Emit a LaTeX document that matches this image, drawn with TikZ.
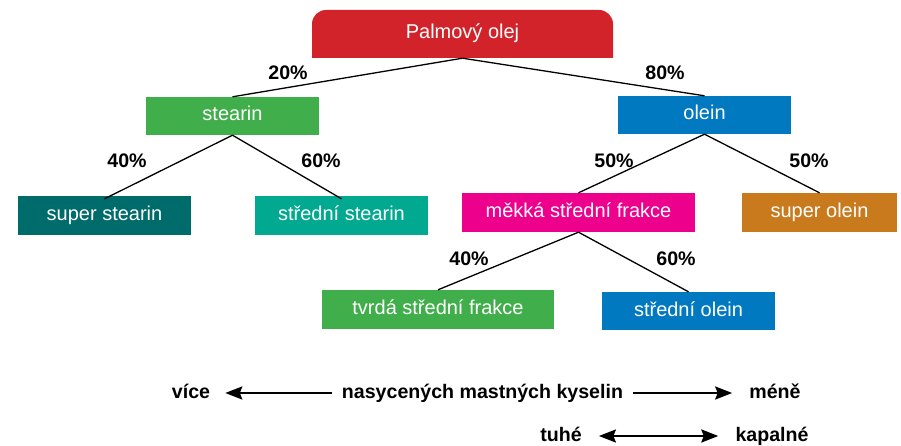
\documentclass[tikz,border=0pt]{standalone}
\usepackage{fontspec}
\setmainfont{Liberation Sans}
\usetikzlibrary{arrows.meta}

\definecolor{palmred}{HTML}{D2232A}
\definecolor{stgreen}{HTML}{40AE4A}
\definecolor{olblue}{HTML}{0079C1}
\definecolor{darkteal}{HTML}{006B6B}
\definecolor{midteal}{HTML}{00A98F}
\definecolor{softpink}{HTML}{EC008C}
\definecolor{oleorange}{HTML}{C87A1C}

\tikzset{
  frakce/.style={minimum width=173pt, minimum height=38pt, inner sep=0pt,
    text height=14.5pt, text depth=4.5pt,
    text=white, font=\fontsize{20}{23}\selectfont},
  podil/.style={inner sep=0pt, text height=14.5pt, text depth=4.5pt,
    font=\bfseries\fontsize{19.6}{23}\selectfont},
  vetev/.style={line width=1.3pt},
  hrot/.tip={Stealth[length=17pt,width=13pt,inset=2.5pt]},
  sipka/.style={line width=2.4pt, -hrot}
}

\begin{document}
\begin{tikzpicture}[x=1pt,y=-1pt]
      \useasboundingbox (0,0) rectangle (901,446);
      % Palm oil on top, the fractions below
      \fill[palmred] (312,58) [rounded corners=14pt] -- (312,10) -- (613,10) [sharp corners] -- (613,58) -- cycle;
      \node[frakce, minimum width=301pt, minimum height=48pt] (palm) at (462.5,34) {Palmový olej};
      \node[frakce, fill=stgreen] (stearin) at (232.5,116) {stearin};
      \node[frakce, fill=olblue] (olein) at (704.5,115) {olein};
      \node[frakce, fill=darkteal, minimum height=39pt] (superst) at (104.5,215.5) {super stearin};
      \node[frakce, fill=midteal, minimum height=39pt] (stredst) at (341.5,215.5) {střední stearin};
      \node[frakce, fill=softpink, minimum width=233pt, minimum height=39pt] (mekka) at (578.5,212.5) {měkká střední frakce};
      \node[frakce, fill=oleorange, minimum width=155pt, minimum height=39pt] (superol) at (819.5,212.5) {super olein};
      \node[frakce, fill=stgreen, minimum width=232pt, minimum height=39pt] (tvrda) at (438,309.5) {tvrdá střední frakce};
      \node[frakce, fill=olblue] (stredol) at (688.5,311) {střední olein};
      % branches
      \draw[vetev] (palm.south) -- (stearin.north);
      \draw[vetev] (palm.south) -- (olein.north);
      \draw[vetev] (stearin.south) -- ([yshift=-3pt]superst.north);
      \draw[vetev] (stearin.south) -- ([yshift=-3pt]stredst.north);
      \draw[vetev] (olein.south) -- (mekka.north);
      \draw[vetev] (olein.south) -- (superol.north);
      \draw[vetev] (mekka.south) -- (tvrda.north);
      \draw[vetev] (mekka.south) -- (stredol.north);
      % shares
      \node[podil] (p20) at (288,75) {20\%};
      \node[podil] (p80) at (665,75) {80\%};
      \node[podil] (p40a) at (127,163) {40\%};
      \node[podil] (p60a) at (321,163) {60\%};
      \node[podil] (p50a) at (614,163) {50\%};
      \node[podil] (p50b) at (809,163) {50\%};
      \node[podil] (p40b) at (469,260) {40\%};
      \node[podil] (p60b) at (676,260) {60\%};
      % scale at the bottom
      \node[podil] (vice) at (191,393) {více};
      \node[podil] (nasyc) at (482.5,393) {nasycených mastných kyselin};
      \node[podil] (mene) at (775,393) {méně};
      \node[podil] (tuhe) at (561,436) {tuhé};
      \node[podil] (kapal) at (772,436) {kapalné};
      \draw[sipka, shorten <=10pt, shorten >=15pt] (nasyc.west) -- (vice.east);
      \draw[sipka, shorten <=10pt, shorten >=17pt] (nasyc.east) -- (mene.west);
      \draw[sipka, hrot-hrot, shorten <=17pt, shorten >=17pt] (tuhe.east) -- (kapal.west);
    \end{tikzpicture}
\end{document}
